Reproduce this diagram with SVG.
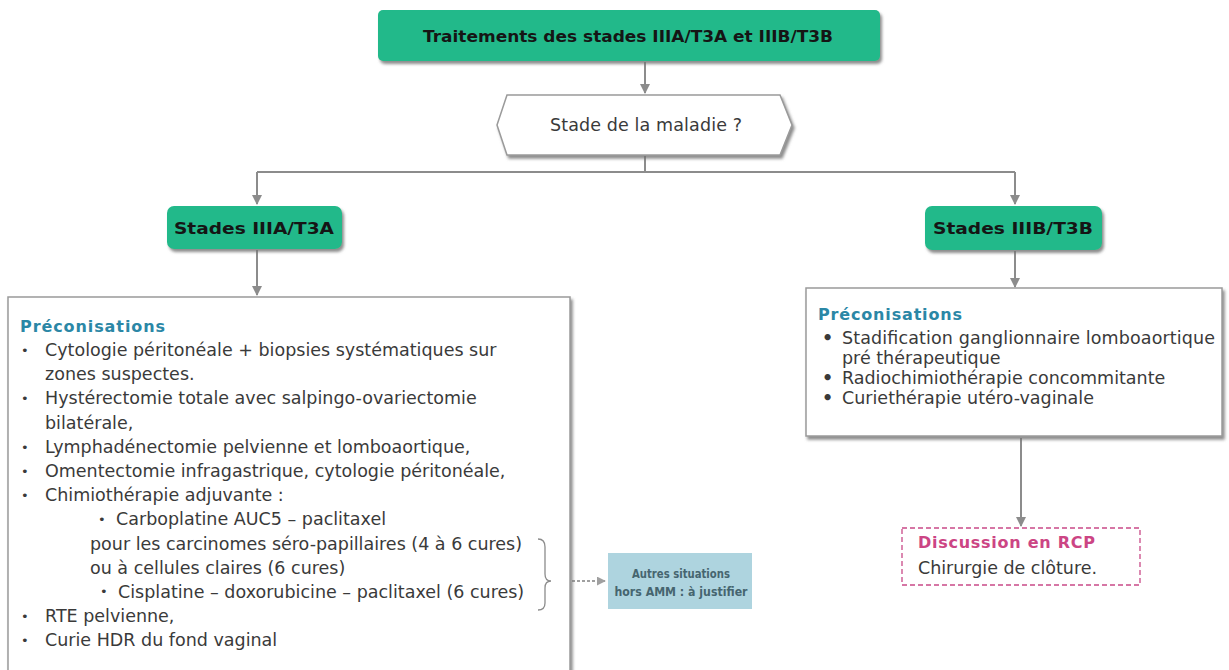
<svg xmlns="http://www.w3.org/2000/svg" width="1229" height="670" viewBox="0 0 1229 670">
  <style>
    .green { fill: #22b98a; }
    .title { font-family: "DejaVu Sans", Verdana, sans-serif; font-weight: bold; fill: #151515; }
    .body { font-family: "DejaVu Sans", Verdana, sans-serif; font-size: 17.5px; fill: #3a3a3a; }
    .dot { font-family: "DejaVu Sans", Verdana, sans-serif; font-size: 13px; fill: #3a3a3a; }
    .head { font-family: "DejaVu Sans", Verdana, sans-serif; font-size: 16px; font-weight: bold; fill: #2b87a6; }
    .box { fill: #fff; stroke: #9a9a9a; stroke-width: 1.5; }
    .conn { fill: none; stroke: #8c8c8c; stroke-width: 2; }
    .dash { fill: none; stroke: #a0a0a0; stroke-width: 1.8; stroke-dasharray: 3 2; }
    .note { font-family: "DejaVu Sans", Verdana, sans-serif; font-size: 13px; font-weight: bold; fill: #46656f; }
  </style>
  <defs>
    <filter id="shadow" x="-10%" y="-20%" width="130%" height="150%">
      <feDropShadow dx="2" dy="3" stdDeviation="1.5" flood-color="#6f6f6f" flood-opacity="0.8"/>
    </filter>
    <marker id="arrow" viewBox="0 0 10 10" refX="9" refY="5" markerWidth="5" markerHeight="5" orient="auto">
      <path d="M0,0 L10,5 L0,10 z" fill="#8c8c8c"/>
    </marker>
    <marker id="arrowLight" viewBox="0 0 10 10" refX="9" refY="5" markerWidth="5" markerHeight="5" orient="auto">
      <path d="M0,0 L10,5 L0,10 z" fill="#a0a0a0"/>
    </marker>
  </defs>

  <rect width="1229" height="670" fill="#fff"/>

  <!-- connectors -->
  <g id="connectors">
    <path class="conn" d="M645,62 V93" marker-end="url(#arrow)"/>
    <path class="conn" d="M645,156 V172 M257,172 H1015"/>
    <path class="conn" d="M257,172 V204" marker-end="url(#arrow)"/>
    <path class="conn" d="M1015,172 V204" marker-end="url(#arrow)"/>
    <path class="conn" d="M257,250 V295" marker-end="url(#arrow)"/>
    <path class="conn" d="M1015,251 V287" marker-end="url(#arrow)"/>
    <path class="conn" d="M1021,438 V526" marker-end="url(#arrow)"/>
    <path class="dash" d="M552,581 H605" marker-end="url(#arrowLight)"/>
  </g>

  <!-- main title -->
  <g id="node-title">
    <rect class="green" x="378" y="10" width="502" height="51" rx="5" filter="url(#shadow)"/>
    <text class="title" x="628" y="42" font-size="15" text-anchor="middle" textLength="410" lengthAdjust="spacingAndGlyphs">Traitements des stades IIIA/T3A et IIIB/T3B</text>
  </g>

  <!-- decision -->
  <g id="node-decision">
    <polygon points="497,125 507,95 780,95 792,125 780,155 507,155" fill="#fff" stroke="#9a9a9a" stroke-width="1.5" filter="url(#shadow)"/>
    <text class="body" x="646" y="131" text-anchor="middle" textLength="192">Stade de la maladie ?</text>
  </g>

  <!-- stage IIIA -->
  <g id="node-stage-a">
    <rect class="green" x="167" y="206" width="175" height="43" rx="7" filter="url(#shadow)"/>
    <text class="title" x="254" y="234" font-size="16" text-anchor="middle" textLength="160" lengthAdjust="spacingAndGlyphs">Stades IIIA/T3A</text>
  </g>

  <!-- stage IIIB -->
  <g id="node-stage-b">
    <rect class="green" x="925" y="206" width="177" height="44" rx="7" filter="url(#shadow)"/>
    <text class="title" x="1013" y="234" font-size="16" text-anchor="middle" textLength="160" lengthAdjust="spacingAndGlyphs">Stades IIIB/T3B</text>
  </g>

  <!-- recommendations for IIIA -->
  <g id="node-reco-a">
    <rect class="box" x="8" y="297" width="562" height="380" filter="url(#shadow)"/>
    <text class="head" x="20" y="332" textLength="145">Préconisations</text>
    <g class="dot">
      <text x="21" y="355">•</text>
      <text x="21" y="403">•</text>
      <text x="21" y="452">•</text>
      <text x="21" y="476">•</text>
      <text x="21" y="500">•</text>
      <text x="98" y="524">•</text>
      <text x="100" y="596">•</text>
      <text x="21" y="621">•</text>
      <text x="21" y="645">•</text>
    </g>
    <g class="body">
      <text x="45" y="356">Cytologie péritonéale + biopsies systématiques sur</text>
      <text x="45" y="380">zones suspectes.</text>
      <text x="45" y="404">Hystérectomie totale avec salpingo-ovariectomie</text>
      <text x="45" y="429">bilatérale,</text>
      <text x="45" y="453">Lymphadénectomie pelvienne et lomboaortique,</text>
      <text x="45" y="477">Omentectomie infragastrique, cytologie péritonéale,</text>
      <text x="45" y="501">Chimiothérapie adjuvante :</text>
      <text x="116" y="525">Carboplatine AUC5 – paclitaxel</text>
      <text x="90" y="550">pour les carcinomes séro-papillaires (4 à 6 cures)</text>
      <text x="90" y="574">ou à cellules claires (6 cures)</text>
      <text x="118" y="598">Cisplatine – doxorubicine – paclitaxel (6 cures)</text>
      <text x="45" y="622">RTE pelvienne,</text>
      <text x="45" y="646">Curie HDR du fond vaginal</text>
    </g>
    <!-- brace grouping the two regimens -->
    <path d="M538,539 Q545,539 545,547 V574 Q545,581 551,581 Q545,581 545,588 V603 Q545,610 538,610" fill="none" stroke="#8c8c8c" stroke-width="1.3"/>
  </g>

  <!-- other situations -->
  <g id="node-other">
    <rect x="608" y="553" width="144" height="56" fill="#aed4df"/>
    <text class="note" x="681" y="578" text-anchor="middle" textLength="98" lengthAdjust="spacingAndGlyphs">Autres situations</text>
    <text class="note" x="681" y="596" text-anchor="middle" textLength="133" lengthAdjust="spacingAndGlyphs">hors AMM : à justifier</text>
  </g>

  <!-- recommendations for IIIB -->
  <g id="node-reco-b">
    <rect class="box" x="806" y="288" width="416" height="148" filter="url(#shadow)"/>
    <text class="head" x="818" y="320" textLength="144">Préconisations</text>
    <g class="body">
      <text x="822" y="344" font-weight="bold">•</text>
      <text x="842" y="344" textLength="373">Stadification ganglionnaire lomboaortique</text>
      <text x="842" y="364">pré thérapeutique</text>
      <text x="822" y="384" font-weight="bold">•</text>
      <text x="842" y="384">Radiochimiothérapie concommitante</text>
      <text x="822" y="404" font-weight="bold">•</text>
      <text x="842" y="404">Curiethérapie utéro-vaginale</text>
    </g>
  </g>

  <!-- multidisciplinary discussion -->
  <g id="node-rcp">
    <rect x="902" y="528" width="238" height="57" fill="#fff" stroke="#c94a88" stroke-width="1.3" stroke-dasharray="5 3"/>
    <text x="918" y="548" font-family="DejaVu Sans, Verdana, sans-serif" font-size="16" font-weight="bold" fill="#cc4584" textLength="177">Discussion en RCP</text>
    <text class="body" x="918" y="574" textLength="179">Chirurgie de clôture.</text>
  </g>
</svg>
